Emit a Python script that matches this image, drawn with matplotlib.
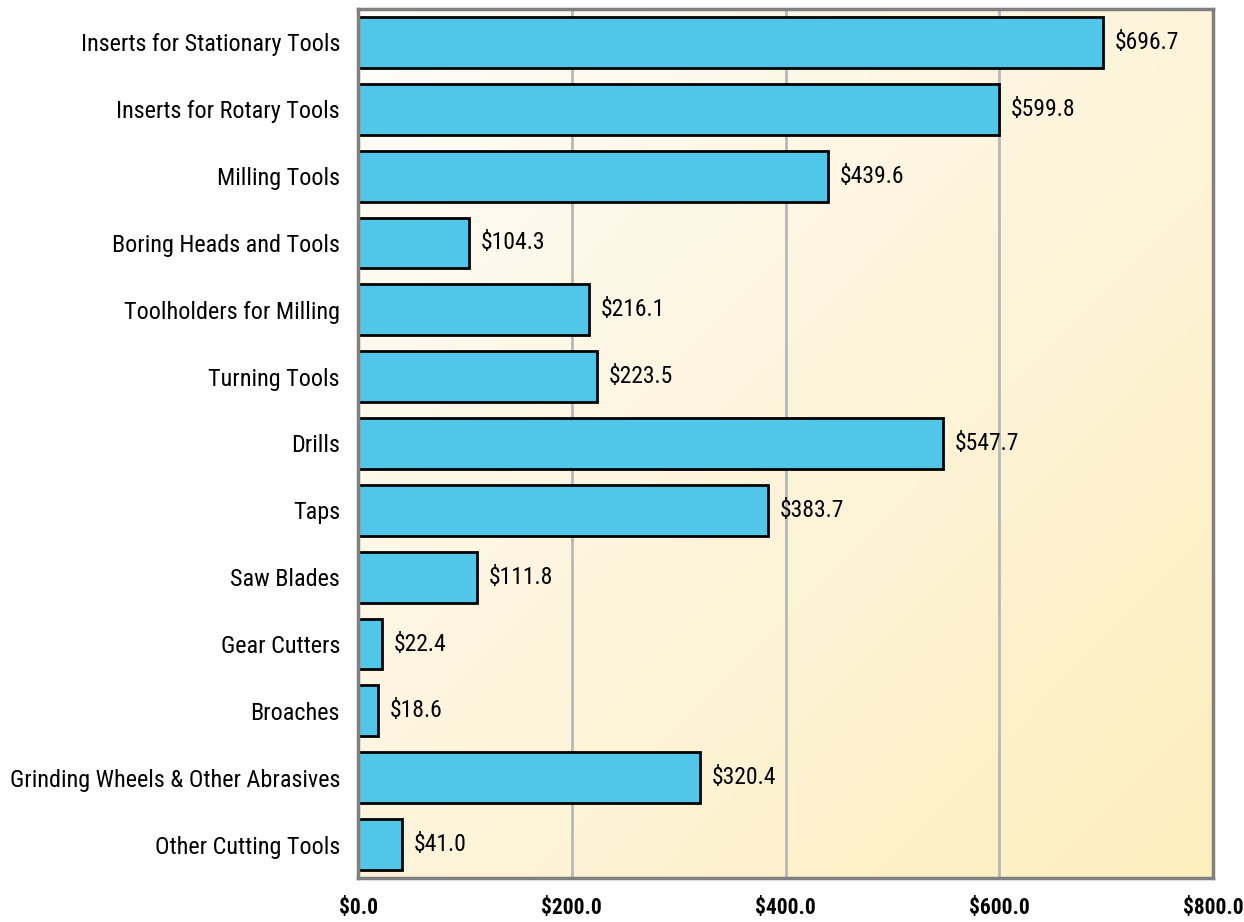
import numpy as np
import matplotlib
matplotlib.use("Agg")
import matplotlib.pyplot as plt
from matplotlib import font_manager
from matplotlib.colors import LinearSegmentedColormap

categories = ["Inserts for Stationary Tools", "Inserts for Rotary Tools", "Milling Tools",
              "Boring Heads and Tools", "Toolholders for Milling", "Turning Tools", "Drills",
              "Taps", "Saw Blades", "Gear Cutters", "Broaches",
              "Grinding Wheels & Other Abrasives", "Other Cutting Tools"]
values = [696.7, 599.8, 439.6, 104.3, 216.1, 223.5, 547.7, 383.7, 111.8, 22.4, 18.6, 320.4, 41.0]
xticks = [0, 200, 400, 600, 800]

# pick a narrow face if one is around
names = {f.name for f in font_manager.fontManager.ttflist}
STRETCH = "normal"
if "Liberation Sans Narrow" in names:
    FAM = "Liberation Sans Narrow"
elif "Roboto Condensed" in names:
    FAM = "Roboto Condensed"
else:
    FAM, STRETCH = "DejaVu Sans", "condensed"
plt.rcParams["font.family"] = [FAM, "DejaVu Sans"]
plt.rcParams["font.stretch"] = STRETCH

fig = plt.figure(figsize=(12.44, 9.22), dpi=100)
ax = fig.add_axes([358/1244, 1-878/922, (1213-358)/1244, (878-9)/922])

# diagonal gradient background: near-white top-left -> pale yellow bottom-right
n = 200
gx, gy = np.meshgrid(np.linspace(0, 1, n), np.linspace(0, 1, n))
grad = (gx + gy) / 2
cmap = LinearSegmentedColormap.from_list("bg", ["#fefdfa", "#fdf4db", "#fdefbe"])
ax.imshow(grad, extent=[0, 800, len(categories)-0.5, -0.5], cmap=cmap,
          aspect="auto", zorder=0, interpolation="bilinear")

y = np.arange(len(categories))
ax.barh(y, values, height=0.76, color="#52c6e8", edgecolor="black", linewidth=2, zorder=3)
for yi, v in zip(y, values):
    ax.text(v + 11, yi, f"${v:.1f}", va="center", ha="left", fontsize=17, zorder=4)

ax.set_xlim(0, 800)
ax.set_ylim(len(categories)-0.5, -0.5)
ax.set_yticks(y)
ax.set_yticklabels(categories, fontsize=17.4)
ax.set_xticks(xticks)
ax.set_xticklabels([f"${t:.1f}" for t in xticks], fontsize=15.5, fontweight="bold")
ax.tick_params(axis="both", length=0)
ax.tick_params(axis="x", pad=14)
ax.tick_params(axis="y", pad=13)
ax.grid(axis="x", color="#b8b8b8", lw=2, zorder=1)
ax.set_axisbelow(True)
for s in ax.spines.values():
    s.set_color("#808080")
    s.set_linewidth(2.5)
    s.set_zorder(5)

fig.savefig("out.png", dpi=100)
